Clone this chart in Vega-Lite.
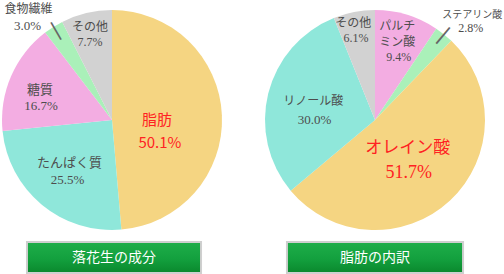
{
  "$schema": "https://vega.github.io/schema/vega-lite/v6.json",
  "padding": 0,
  "autosize": {"type": "pad"},
  "background": "white",
  "config": {"view": {"stroke": null}},
  "columns": 2,
  "spacing": {"row": 2, "column": 39},
  "align": "each",
  "bounds": "flush",
  "resolve": {"scale": {"color": "independent"}},
  "concat": [
    {
      "width": 224,
      "height": 240,
      "data": {"values": [
        {"name": "脂肪", "value": 50.1, "pct": "50.1%", "k": 1},
        {"name": "たんぱく質", "value": 25.5, "pct": "25.5%", "k": 2},
        {"name": "糖質", "value": 16.7, "pct": "16.7%", "k": 3},
        {"name": "食物繊維", "value": 3.0, "pct": "3.0%", "k": 4},
        {"name": "その他", "value": 7.7, "pct": "7.7%", "k": 5}
      ]},
      "encoding": {
        "theta": {"field": "value", "type": "quantitative", "stack": true},
        "order": {"field": "k", "type": "quantitative"}
      },
      "resolve": {"scale": {"radius": "independent"}},
      "layer": [
        {
          "mark": {"type": "arc", "outerRadius": 110},
          "encoding": {
            "color": {"field": "name", "type": "nominal", "legend": null,
              "scale": {"domain": ["脂肪", "たんぱく質", "糖質", "食物繊維", "その他"],
                        "range": ["#F5D582", "#8FE7DA", "#F3ADE2", "#AAF0B9", "#D2D2D2"]}}
          }
        },
        {
          "mark": {"type": "text", "font": "Noto Sans CJK JP", "fontSize": 15, "color": "#FF2222", "radius": 46, "dx": -1, "dy": 2, "baseline": "middle"},
          "encoding": {"detail": {"field": "name", "type": "nominal"},
            "text": {"condition": {"test": "datum.name === '脂肪'", "field": "name"}, "value": ""}}
        },
        {
          "mark": {"type": "text", "font": "Noto Sans CJK JP", "fontSize": 15, "color": "#FF2222", "radius": 46, "dx": 2, "dy": 25, "baseline": "middle"},
          "encoding": {"detail": {"field": "name", "type": "nominal"},
            "text": {"condition": {"test": "datum.name === '脂肪'", "field": "pct"}, "value": ""}}
        },
        {
          "mark": {"type": "text", "font": "Noto Sans CJK JP", "fontSize": 13, "color": "#4d4d4d", "radius": 68, "dx": 1, "dy": -9, "baseline": "middle"},
          "encoding": {"detail": {"field": "name", "type": "nominal"},
            "text": {"condition": {"test": "datum.name === 'たんぱく質'", "field": "name"}, "value": ""}}
        },
        {
          "mark": {"type": "text", "font": "Liberation Serif", "fontSize": 13, "color": "#4d4d4d", "radius": 68, "dx": -1, "dy": 8, "baseline": "middle"},
          "encoding": {"detail": {"field": "name", "type": "nominal"},
            "text": {"condition": {"test": "datum.name === 'たんぱく質'", "field": "pct"}, "value": ""}}
        },
        {
          "mark": {"type": "text", "font": "Noto Sans CJK JP", "fontSize": 13, "color": "#4d4d4d", "radius": 74, "dx": -4, "dy": -1, "baseline": "middle"},
          "encoding": {"detail": {"field": "name", "type": "nominal"},
            "text": {"condition": {"test": "datum.name === '糖質'", "field": "name"}, "value": ""}}
        },
        {
          "mark": {"type": "text", "font": "Liberation Serif", "fontSize": 13, "color": "#4d4d4d", "radius": 74, "dx": -3, "dy": 15, "baseline": "middle"},
          "encoding": {"detail": {"field": "name", "type": "nominal"},
            "text": {"condition": {"test": "datum.name === '糖質'", "field": "pct"}, "value": ""}}
        },
        {
          "mark": {"type": "text", "font": "Noto Sans CJK JP", "fontSize": 12, "color": "#4d4d4d", "dx": -17, "dy": -5, "baseline": "middle"},
          "encoding": {"detail": {"field": "name", "type": "nominal"},
            "radius": {"field": "value", "type": "quantitative", "scale": {"type": "linear", "zero": false, "nice": false, "domain": [3.0, 7.7, 16.7, 25.5, 50.1], "range": [125, 0, 0, 0, 0]}},
            "text": {"condition": {"test": "datum.name === '食物繊維'", "field": "name"}, "value": ""}}
        },
        {
          "mark": {"type": "text", "font": "Liberation Serif", "fontSize": 13, "color": "#4d4d4d", "dx": -18, "dy": 12, "baseline": "middle"},
          "encoding": {"detail": {"field": "name", "type": "nominal"},
            "radius": {"field": "value", "type": "quantitative", "scale": {"type": "linear", "zero": false, "nice": false, "domain": [3.0, 7.7, 16.7, 25.5, 50.1], "range": [125, 0, 0, 0, 0]}},
            "text": {"condition": {"test": "datum.name === '食物繊維'", "field": "pct"}, "value": ""}}
        },
        {
          "mark": {"type": "text", "font": "DejaVu Sans", "fontSize": 20, "color": "#666666", "angle": 330, "baseline": "middle"},
          "encoding": {"detail": {"field": "name", "type": "nominal"},
            "radius": {"field": "value", "type": "quantitative", "scale": {"type": "linear", "zero": false, "nice": false, "domain": [3.0, 7.7, 16.7, 25.5, 50.1], "range": [106, 0, 0, 0, 0]}},
            "text": {"condition": {"test": "datum.name === '食物繊維'", "value": "|"}, "value": ""}}
        },
        {
          "mark": {"type": "text", "font": "Noto Sans CJK JP", "fontSize": 12, "color": "#4d4d4d", "radius": 88, "dx": -1.5, "dy": -7.5, "baseline": "middle"},
          "encoding": {"detail": {"field": "name", "type": "nominal"},
            "text": {"condition": {"test": "datum.name === 'その他'", "field": "name"}, "value": ""}}
        },
        {
          "mark": {"type": "text", "font": "Liberation Serif", "fontSize": 12, "color": "#4d4d4d", "radius": 88, "dx": -1.5, "dy": 8, "baseline": "middle"},
          "encoding": {"detail": {"field": "name", "type": "nominal"},
            "text": {"condition": {"test": "datum.name === 'その他'", "field": "pct"}, "value": ""}}
        }
      ]
    },
    {
      "width": 224,
      "height": 240,
      "data": {"values": [
        {"name": "パルチミン酸", "label": "パルチ\nミン酸", "value": 9.4, "pct": "9.4%", "k": 1},
        {"name": "ステアリン酸", "label": "ステアリン酸", "value": 2.8, "pct": "2.8%", "k": 2},
        {"name": "オレイン酸", "label": "オレイン酸", "value": 51.7, "pct": "51.7%", "k": 3},
        {"name": "リノール酸", "label": "リノール酸", "value": 30.0, "pct": "30.0%", "k": 4},
        {"name": "その他", "label": "その他", "value": 6.1, "pct": "6.1%", "k": 5}
      ]},
      "encoding": {
        "theta": {"field": "value", "type": "quantitative", "stack": true},
        "order": {"field": "k", "type": "quantitative"}
      },
      "resolve": {"scale": {"radius": "independent"}},
      "layer": [
        {
          "mark": {"type": "arc", "outerRadius": 110},
          "encoding": {
            "color": {"field": "name", "type": "nominal", "legend": null,
              "scale": {"domain": ["パルチミン酸", "ステアリン酸", "オレイン酸", "リノール酸", "その他"],
                        "range": ["#F3ADE2", "#AAF0B9", "#F5D582", "#8FE7DA", "#D2D2D2"]}}
          }
        },
        {
          "mark": {"type": "text", "font": "Noto Sans CJK JP", "fontSize": 12, "color": "#4d4d4d", "radius": 82, "dx": -1.5, "dy": -15.6, "baseline": "middle", "lineBreak": "\n", "lineHeight": 16.5},
          "encoding": {"detail": {"field": "name", "type": "nominal"},
            "text": {"condition": {"test": "datum.name === 'パルチミン酸'", "field": "label"}, "value": ""}}
        },
        {
          "mark": {"type": "text", "font": "Liberation Serif", "fontSize": 12, "color": "#4d4d4d", "radius": 82, "dx": 0, "dy": 15, "baseline": "middle"},
          "encoding": {"detail": {"field": "name", "type": "nominal"},
            "text": {"condition": {"test": "datum.name === 'パルチミン酸'", "field": "pct"}, "value": ""}}
        },
        {
          "mark": {"type": "text", "font": "Noto Sans CJK JP", "fontSize": 10, "color": "#4d4d4d", "dx": 17, "dy": -5.4, "baseline": "middle"},
          "encoding": {"detail": {"field": "name", "type": "nominal"},
            "radius": {"field": "value", "type": "quantitative", "scale": {"type": "linear", "zero": false, "nice": false, "domain": [2.8, 6.1, 9.4, 30.0, 51.7], "range": [128, 0, 0, 0, 0]}},
            "text": {"condition": {"test": "datum.name === 'ステアリン酸'", "field": "label"}, "value": ""}}
        },
        {
          "mark": {"type": "text", "font": "Liberation Serif", "fontSize": 12, "color": "#4d4d4d", "dx": 15.5, "dy": 8, "baseline": "middle"},
          "encoding": {"detail": {"field": "name", "type": "nominal"},
            "radius": {"field": "value", "type": "quantitative", "scale": {"type": "linear", "zero": false, "nice": false, "domain": [2.8, 6.1, 9.4, 30.0, 51.7], "range": [128, 0, 0, 0, 0]}},
            "text": {"condition": {"test": "datum.name === 'ステアリン酸'", "field": "pct"}, "value": ""}}
        },
        {
          "mark": {"type": "text", "font": "DejaVu Sans", "fontSize": 21, "color": "#666666", "angle": 40, "baseline": "middle"},
          "encoding": {"detail": {"field": "name", "type": "nominal"},
            "radius": {"field": "value", "type": "quantitative", "scale": {"type": "linear", "zero": false, "nice": false, "domain": [2.8, 6.1, 9.4, 30.0, 51.7], "range": [109, 0, 0, 0, 0]}},
            "text": {"condition": {"test": "datum.name === 'ステアリン酸'", "value": "|"}, "value": ""}}
        },
        {
          "mark": {"type": "text", "font": "Noto Sans CJK JP", "fontSize": 17, "color": "#FF2222", "radius": 52, "dx": -2.7, "dy": -9.7, "baseline": "middle"},
          "encoding": {"detail": {"field": "name", "type": "nominal"},
            "text": {"condition": {"test": "datum.name === 'オレイン酸'", "field": "label"}, "value": ""}}
        },
        {
          "mark": {"type": "text", "font": "Liberation Serif", "fontSize": 18, "color": "#FF2222", "radius": 52, "dx": -1.7, "dy": 14.5, "baseline": "middle"},
          "encoding": {"detail": {"field": "name", "type": "nominal"},
            "text": {"condition": {"test": "datum.name === 'オレイン酸'", "field": "pct"}, "value": ""}}
        },
        {
          "mark": {"type": "text", "font": "Noto Sans CJK JP", "fontSize": 12, "color": "#4d4d4d", "radius": 62, "dx": -1.7, "dy": -4, "baseline": "middle"},
          "encoding": {"detail": {"field": "name", "type": "nominal"},
            "text": {"condition": {"test": "datum.name === 'リノール酸'", "field": "label"}, "value": ""}}
        },
        {
          "mark": {"type": "text", "font": "Liberation Serif", "fontSize": 13, "color": "#4d4d4d", "radius": 62, "dx": -0.4, "dy": 15, "baseline": "middle"},
          "encoding": {"detail": {"field": "name", "type": "nominal"},
            "text": {"condition": {"test": "datum.name === 'リノール酸'", "field": "pct"}, "value": ""}}
        },
        {
          "mark": {"type": "text", "font": "Noto Sans CJK JP", "fontSize": 12, "color": "#4d4d4d", "radius": 91, "dx": -4.5, "dy": -7.4, "baseline": "middle"},
          "encoding": {"detail": {"field": "name", "type": "nominal"},
            "text": {"condition": {"test": "datum.name === 'その他'", "field": "label"}, "value": ""}}
        },
        {
          "mark": {"type": "text", "font": "Liberation Serif", "fontSize": 12, "color": "#4d4d4d", "radius": 91, "dx": -1.7, "dy": 7.3, "baseline": "middle"},
          "encoding": {"detail": {"field": "name", "type": "nominal"},
            "text": {"condition": {"test": "datum.name === 'その他'", "field": "pct"}, "value": ""}}
        }
      ]
    },
    {
      "width": 224,
      "height": 31,
      "data": {"values": [{"title": "落花生の成分"}]},
      "layer": [
        {
          "mark": {"type": "rect", "fill": {"gradient": "linear", "x1": 0, "y1": 0, "x2": 0, "y2": 1,
            "stops": [{"offset": 0, "color": "#1fae4a"}, {"offset": 0.55, "color": "#13a03e"}, {"offset": 1, "color": "#0a882d"}]},
            "stroke": "#cfcfcf", "strokeWidth": 2},
          "encoding": {
            "x": {"datum": 0, "type": "quantitative", "scale": {"domain": [-0.155, 1.132], "nice": false, "zero": false}, "axis": null},
            "x2": {"datum": 1},
            "y": {"datum": 0, "type": "quantitative", "scale": {"domain": [0, 1]}, "axis": null},
            "y2": {"datum": 1}
          }
        },
        {
          "mark": {"type": "text", "font": "Noto Sans CJK JP", "fontSize": 14, "color": "white", "baseline": "middle"},
          "encoding": {
            "x": {"datum": 0.5, "type": "quantitative"},
            "y": {"datum": 0.5, "type": "quantitative"},
            "text": {"field": "title"}
          }
        }
      ]
    },
    {
      "width": 224,
      "height": 31,
      "data": {"values": [{"title": "脂肪の内訳"}]},
      "layer": [
        {
          "mark": {"type": "rect", "fill": {"gradient": "linear", "x1": 0, "y1": 0, "x2": 0, "y2": 1,
            "stops": [{"offset": 0, "color": "#1fae4a"}, {"offset": 0.55, "color": "#13a03e"}, {"offset": 1, "color": "#0a882d"}]},
            "stroke": "#cfcfcf", "strokeWidth": 2},
          "encoding": {
            "x": {"datum": 0, "type": "quantitative", "scale": {"domain": [-0.136, 1.136], "nice": false, "zero": false}, "axis": null},
            "x2": {"datum": 1},
            "y": {"datum": 0, "type": "quantitative", "scale": {"domain": [0, 1]}, "axis": null},
            "y2": {"datum": 1}
          }
        },
        {
          "mark": {"type": "text", "font": "Noto Sans CJK JP", "fontSize": 14, "color": "white", "baseline": "middle"},
          "encoding": {
            "x": {"datum": 0.5, "type": "quantitative"},
            "y": {"datum": 0.5, "type": "quantitative"},
            "text": {"field": "title"}
          }
        }
      ]
    }
  ]
}
